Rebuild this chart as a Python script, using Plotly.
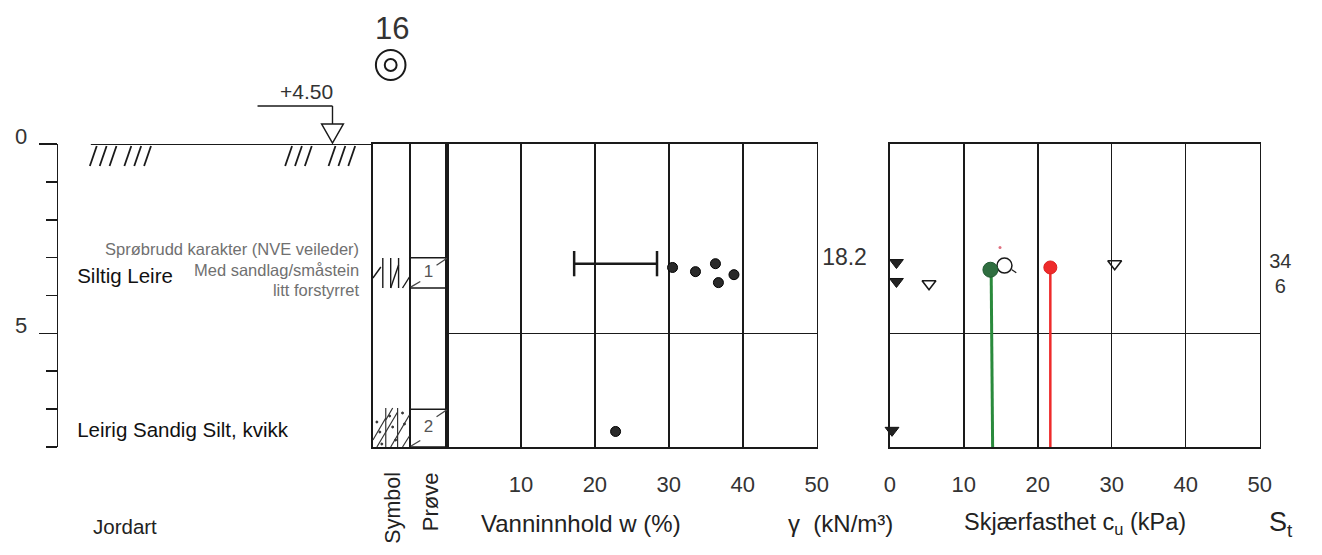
import plotly.graph_objects as go

W, H = 1322, 555
FONT = "Liberation Sans, Arial, sans-serif"
INK = "#1a1a1a"

# ---------------- data ----------------
depth_major = [0, 5]
depth_minor = [1, 2, 3, 4, 6, 7, 8]
depth_labels = ["0", "5"]

w_tick_vals = [10, 20, 30, 40, 50]
w_values = [30.5, 33.6, 36.3, 36.7, 38.8, 22.8]
w_depth = [3.26, 3.37, 3.16, 3.66, 3.45, 7.59]
wp_wl = [17.2, 28.4]
wp_wl_depth = [3.16, 3.16]

cu_tick_vals = [0, 10, 20, 30, 40, 50]
cu_remoulded = [0.9, 0.9, 0.3]
cu_remoulded_depth = [3.13, 3.63, 7.56]
cu_cone = [5.3, 30.4]
cu_cone_depth = [3.69, 3.16]
cu_green = [13.6]
cu_green_depth = [3.32]
cu_green_line = [13.7, 13.9]
cu_green_line_depth = [3.32, 8.0]
cu_open = [15.5]
cu_open_depth = [3.21]
cu_open_tail = [16.5, 17.1]
cu_open_tail_depth = [3.32, 3.40]
cu_red = [21.7]
cu_red_depth = [3.26]
cu_red_line = [21.7, 21.7]
cu_red_line_depth = [3.26, 8.0]
cu_speck = [14.9]
cu_speck_depth = [2.73]

gamma_values = ["18.2"]
gamma_depth = [3.05]
st_values = ["34", "6"]
st_depth = [3.15, 3.79]

layer_names = ["Siltig Leire", "Leirig Sandig Silt, kvikk"]
layer_depth = [3.53, 7.59]
notes = ["Sprøbrudd karakter (NVE veileder)", "Med sandlag/småstein", "litt forstyrret"]
note_depth = [2.82, 3.37, 3.9]

sample_no = ["1", "2"]
sample_top = [3.0, 7.0]
sample_bot = [3.8, 8.0]

# ---------------- helpers (pixel -> paper) ----------------
def X(px):
    return px / W

def Y(py):
    return 1 - py / H

YD = [Y(447), Y(144)]

fig = go.Figure()

# water content
fig.add_trace(go.Scatter(x=wp_wl, y=wp_wl_depth, mode="lines+markers", xaxis="x", yaxis="y",
                         line=dict(color=INK, width=2.5),
                         marker=dict(symbol="line-ns", size=18, line=dict(width=2.5, color=INK))))
fig.add_trace(go.Scatter(x=w_values, y=w_depth, mode="markers", xaxis="x", yaxis="y",
                         marker=dict(size=10, color="#2a2a2a", line=dict(color="#000", width=1))))

# shear strength
fig.add_trace(go.Scatter(x=cu_green_line, y=cu_green_line_depth, mode="lines", xaxis="x2", yaxis="y2",
                         line=dict(color="#2a8a3c", width=3), cliponaxis=False))
fig.add_trace(go.Scatter(x=cu_red_line, y=cu_red_line_depth, mode="lines", xaxis="x2", yaxis="y2",
                         line=dict(color="#ee2a2a", width=2.5), cliponaxis=False))
fig.add_trace(go.Scatter(x=cu_open_tail, y=cu_open_tail_depth, mode="lines", xaxis="x2", yaxis="y2",
                         line=dict(color=INK, width=1.2)))
fig.add_trace(go.Scatter(x=cu_open, y=cu_open_depth, mode="markers", xaxis="x2", yaxis="y2",
                         marker=dict(symbol="circle-open", size=15, color=INK, line=dict(width=1.5))))
fig.add_trace(go.Scatter(x=cu_green, y=cu_green_depth, mode="markers", xaxis="x2", yaxis="y2",
                         marker=dict(size=15, color="#2f6e40", line=dict(color="#1f5a30", width=1))))
fig.add_trace(go.Scatter(x=cu_red, y=cu_red_depth, mode="markers", xaxis="x2", yaxis="y2",
                         marker=dict(size=13, color="#ee2a2a", line=dict(color="#dd2020", width=1))))
fig.add_trace(go.Scatter(x=cu_speck, y=cu_speck_depth, mode="markers", xaxis="x2", yaxis="y2",
                         marker=dict(size=3, color="#e07080")))
fig.add_trace(go.Scatter(x=cu_remoulded, y=cu_remoulded_depth, mode="markers", xaxis="x2", yaxis="y2",
                         cliponaxis=False,
                         marker=dict(symbol="triangle-down", size=12, color="#222", line=dict(color="#111", width=1))))
fig.add_trace(go.Scatter(x=cu_cone, y=cu_cone_depth, mode="markers", xaxis="x2", yaxis="y2",
                         marker=dict(symbol="triangle-down-open", size=12, color=INK, line=dict(width=1.6))))

# text columns
fig.add_trace(go.Scatter(x=[0.06] * len(layer_names), y=layer_depth, text=layer_names, mode="text",
                         textposition="middle right", xaxis="x4", yaxis="y4", cliponaxis=False,
                         textfont=dict(family=FONT, size=20.5, color="#111")))
fig.add_trace(go.Scatter(x=[0.956] * len(notes), y=note_depth, text=notes, mode="text",
                         textposition="middle left", xaxis="x4", yaxis="y4", cliponaxis=False,
                         textfont=dict(family=FONT, size=16.5, color="#707070")))
fig.add_trace(go.Scatter(x=[0.38] * len(gamma_values), y=gamma_depth, text=gamma_values, mode="text",
                         textposition="middle center", xaxis="x5", yaxis="y5", cliponaxis=False,
                         textfont=dict(family=FONT, size=23, color="#333")))
fig.add_trace(go.Scatter(x=[0.41] * len(st_values), y=st_depth, text=st_values, mode="text",
                         textposition="middle center", xaxis="x6", yaxis="y6", cliponaxis=False,
                         textfont=dict(family=FONT, size=20, color="#333")))
fig.add_trace(go.Scatter(x=[1.5] * len(sample_no), y=[(a + b) / 2 for a, b in zip(sample_top, sample_bot)],
                         text=sample_no, mode="text", textposition="middle center", xaxis="x3", yaxis="y3",
                         textfont=dict(family=FONT, size=17, color="#555")))

# ---------------- shapes ----------------
shapes = []
def line_px(x0, y0, x1, y1, w=1.5, c=INK):
    shapes.append(dict(type="line", xref="paper", yref="paper", x0=X(x0), y0=Y(y0), x1=X(x1), y1=Y(y1),
                       line=dict(color=c, width=w)))

# ground surface at depth 0
shapes.append(dict(type="line", xref="paper", yref="y4", x0=X(86), x1=X(372), y0=0, y1=0,
                   line=dict(color=INK, width=2)))
for b in [85, 95, 105, 120, 130, 140, 283, 293, 303, 327, 337, 347]:
    line_px(b, 166, b + 7, 146, w=1.8)

# water level marker and elevation leader
line_px(255, 106, 331, 106, w=1.4)
line_px(331, 106, 331, 124, w=1.4)
shapes.append(dict(type="path", xref="paper", yref="paper",
                   path=f"M {X(320)},{Y(124)} L {X(342)},{Y(124)} L {X(331)},{Y(143)} Z",
                   line=dict(color=INK, width=1.5), fillcolor="rgba(0,0,0,0)"))

# borehole symbol
shapes.append(dict(type="circle", xref="paper", yref="paper", x0=X(375), x1=X(405), y0=Y(80), y1=Y(50),
                   line=dict(color=INK, width=2)))
shapes.append(dict(type="circle", xref="paper", yref="paper", x0=X(384), x1=X(396), y0=Y(71), y1=Y(59),
                   line=dict(color=INK, width=2)))

# sample boxes
for t, b in zip(sample_top, sample_bot):
    shapes.append(dict(type="rect", xref="x3", yref="y3", x0=1, x1=2, y0=t, y1=b,
                       line=dict(color=INK, width=1.5)))
    shapes.append(dict(type="line", xref="x3", yref="y3", x0=2.0, x1=1.72, y0=t + 0.02, y1=t + 0.2,
                       line=dict(color="#444", width=1.3)))
    shapes.append(dict(type="line", xref="x3", yref="y3", x0=1.02, x1=1.28, y0=b - 0.02, y1=b - 0.17,
                       line=dict(color="#444", width=1.3)))

# soil symbols (silty clay, then clayey sandy silt)
for seg in [(372, 278, 380, 267), (382, 258, 382, 288), (390, 258, 390, 288), (390, 288, 398, 265),
            (398, 258, 398, 288), (402, 288, 409, 277)]:
    line_px(*seg, w=1.4)
for seg in [(372, 440, 385, 418), (385, 420, 392, 408), (376, 447, 397, 412), (390, 447, 409, 415),
            (402, 447, 409, 436), (385, 408, 385, 447), (397, 408, 397, 447)]:
    line_px(*seg, w=1.2, c="#333")
for dx, dy in [(379, 432), (392, 427), (404, 424), (381, 444), (395, 440), (389, 416), (402, 413), (376, 422)]:
    shapes.append(dict(type="circle", xref="paper", yref="paper", x0=X(dx - 1), x1=X(dx + 1),
                       y0=Y(dy + 1), y1=Y(dy - 1), line=dict(color="#333", width=1), fillcolor="#333"))

# ---------------- annotations ----------------
ann = []
def text_px(t, x, y, size, angle=0, color="#222"):
    ann.append(dict(text=t, xref="paper", yref="paper", x=X(x), y=Y(y), showarrow=False,
                    xanchor="center", yanchor="middle", textangle=angle,
                    font=dict(family=FONT, size=size, color=color)))

for d, lab in zip(depth_major, depth_labels):
    ann.append(dict(text=lab, xref="paper", yref="y4", x=X(15), y=d, yshift=8, showarrow=False,
                    xanchor="center", yanchor="middle", font=dict(family=FONT, size=22, color="#333")))

text_px("16", 391, 28, 31, color="#333")
text_px("+4.50", 305, 91, 21, color="#333")
text_px("Jordart", 121, 526, 20.5)
text_px("Symbol", 392, 508, 21.5, angle=-90)
text_px("Prøve", 430, 502, 22, angle=-90)
text_px("Vanninnhold w (%)", 583, 523, 24)
text_px("γ  (kN/m³)", 846, 523, 24)
text_px("Skjærfasthet c<sub>u</sub> (kPa)", 1084, 523, 23.5)
text_px("S<sub>t</sub>", 1293, 524, 27)

# ---------------- axes ----------------
def yax(anchor, grid=False, line=True):
    d = dict(domain=YD, range=[8, 0], anchor=anchor, zeroline=False, showticklabels=False, ticks="",
             showline=line, mirror=line, linecolor=INK, linewidth=1.6, fixedrange=True)
    if grid:
        d.update(showgrid=True, tickmode="array", tickvals=[5], gridcolor=INK, gridwidth=1.5)
    else:
        d.update(showgrid=False)
    return d

def xpanel(domain, tickvals, anchor):
    return dict(domain=domain, range=[0, 50], anchor=anchor, tickmode="array", tickvals=tickvals,
                ticktext=[str(v) for v in tickvals], ticks="", showgrid=True, gridcolor=INK, gridwidth=1.5,
                zeroline=False, showline=True, mirror=True, linecolor=INK, linewidth=1.6,
                tickfont=dict(family=FONT, size=22, color="#333"), ticklabelstandoff=17, fixedrange=True)

hidden_x = lambda dom, anc: dict(domain=dom, range=[0, 1], anchor=anc, visible=False, fixedrange=True)

fig.update_layout(
    width=W, height=H, autosize=False, margin=dict(l=0, r=0, t=0, b=0, pad=0),
    paper_bgcolor="white", plot_bgcolor="rgba(0,0,0,0)", showlegend=False,
    xaxis=xpanel([X(447), X(822)], w_tick_vals, "y"), yaxis=yax("x", grid=True),
    xaxis2=xpanel([X(896), X(1271)], cu_tick_vals, "y2"), yaxis2=yax("x2", grid=True),
    xaxis3=dict(domain=[X(372), X(447)], range=[0, 2], anchor="y3", tickmode="array", tickvals=[1],
                showticklabels=False, ticks="", showgrid=True, gridcolor=INK, gridwidth=1.5,
                zeroline=False, showline=True, mirror=True, linecolor=INK, linewidth=1.6, fixedrange=True),
    yaxis3=yax("x3"),
    xaxis4=hidden_x([X(53), X(372)], "y4"),
    yaxis4=dict(domain=YD, range=[8, 0], anchor="x4", side="left", showgrid=False, zeroline=False,
                showline=True, linecolor=INK, linewidth=1.6, showticklabels=False,
                tickmode="array", tickvals=depth_major, ticks="outside", ticklen=18, tickwidth=1.6,
                tickcolor=INK,
                minor=dict(tickmode="array", tickvals=depth_minor, ticks="outside", ticklen=11,
                           tickwidth=1.6, tickcolor=INK),
                fixedrange=True),
    xaxis5=hidden_x([X(822), X(896)], "y5"),
    yaxis5=dict(domain=YD, range=[8, 0], anchor="x5", visible=False),
    xaxis6=hidden_x([X(1271), 1.0], "y6"),
    yaxis6=dict(domain=YD, range=[8, 0], anchor="x6", visible=False),
    shapes=shapes, annotations=ann,
)

fig.write_html(
    "out.html",
    config={"displayModeBar": False, "staticPlot": True, "responsive": False},
    post_script="document.documentElement.style.overflow='hidden';"
                "document.body.style.overflow='hidden';document.body.style.margin='0';",
)
